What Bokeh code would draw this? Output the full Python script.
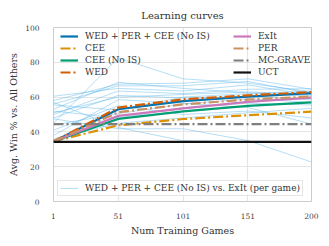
from bokeh.plotting import figure
from bokeh.models import Legend, LegendItem, FixedTicker, Range1d
from bokeh.embed import file_html
from bokeh.resources import INLINE

x_games = [1, 51, 101, 151, 200]

wed_per_cee = [34.5, 53.0, 57.7, 60.3, 62.3]
cee = [34.5, 43.8, 47.4, 49.6, 51.6]
cee_no_is = [34.5, 47.5, 51.8, 55.0, 57.0]
wed = [34.5, 54.0, 58.7, 61.0, 62.9]
exit_ = [34.5, 49.2, 53.5, 57.3, 59.7]
per = [34.5, 51.3, 55.8, 58.6, 60.3]
mc_grave = [44.5, 44.5, 44.5, 44.5, 44.5]
uct = [34.3, 34.3, 34.3, 34.3, 34.3]

per_game = [
    [45, 82.5, 70.5, 68.0, 63.0],
    [58, 67.5, 68.0, 70.5, 64.5],
    [56, 66.5, 66.5, 69.0, 62.0],
    [60.5, 65.0, 63.5, 67.0, 61.0],
    [53, 68.5, 65.0, 62.5, 60.5],
    [50, 63.5, 62.0, 64.5, 64.8],
    [48, 61.0, 59.5, 60.5, 58.5],
    [55.5, 52.5, 60.0, 62.0, 63.5],
    [44, 50.5, 56.0, 59.0, 57.0],
    [52, 48.0, 54.0, 56.5, 55.5],
    [47.5, 41.8, 41.8, 35.0, 22.7],
    [57, 42.5, 34.9, 34.5, 34.5],
    [41, 55.0, 50.0, 52.0, 48.0],
    [38, 58.5, 56.5, 54.0, 44.5],
    [36, 45.0, 48.0, 51.0, 53.5],
    [51, 60.0, 61.5, 63.0, 61.5],
]

y_ticks = [0, 20, 40, 60, 80, 100]
title_text = "Learning curves"

SERIF = "DejaVu Serif"

p = figure(width=321, height=238, output_backend="svg", toolbar_location=None,
           x_range=Range1d(1, 200), y_range=Range1d(0, 100),
           min_border_left=53, min_border_right=10, min_border_top=0, min_border_bottom=37,
           title=title_text)
p.title.align = "center"
p.title.text_font = SERIF
p.title.text_font_style = "normal"
p.title.text_font_size = "10px"
p.title.text_color = "#333333"
p.title.standoff = 8
p.title.padding = 3

p.outline_line_color = "#cccccc"
p.outline_line_width = 1
for ax in (p.xaxis[0], p.yaxis[0]):
    ax.axis_line_color = None
    ax.major_tick_line_color = None
    ax.minor_tick_line_color = None
    ax.major_tick_out = 0
    ax.major_tick_in = 0
    ax.minor_tick_out = 0
    ax.minor_tick_in = 0
    ax.major_label_text_font = SERIF
    ax.major_label_text_font_size = "7.5px"
    ax.major_label_text_color = "#444444"
    ax.axis_label_text_font = SERIF
    ax.axis_label_text_font_style = "normal"
    ax.axis_label_text_font_size = "9.5px"
    ax.axis_label_text_color = "#333333"
p.xaxis.ticker = FixedTicker(ticks=x_games)
p.yaxis.ticker = FixedTicker(ticks=y_ticks)
p.xaxis.major_label_standoff = 11
p.yaxis.major_label_standoff = 14
p.xaxis.axis_label = "Num Training Games"
p.yaxis.axis_label = "Avg. Win % vs. All Others"
p.xaxis.axis_label_standoff = 3
p.yaxis.axis_label_standoff = 3
p.grid.grid_line_color = "#e5e5e5"
p.grid.grid_line_width = 1.2

pg_renderers = []
for ys in per_game:
    r = p.line(x_games, ys, line_color="#56b4e9", line_alpha=0.55, line_width=0.8)
    pg_renderers.append(r)

DD = "10 3 2 3"
specs = [
    ("WED + PER + CEE (No IS)", wed_per_cee, "#0173b2", "solid"),
    ("CEE", cee, "#de8f05", DD),
    ("CEE (No IS)", cee_no_is, "#029e73", "solid"),
    ("WED", wed, "#d55e00", DD),
    ("ExIt", exit_, "#cc78bc", "solid"),
    ("PER", per, "#ca9161", DD),
    ("MC-GRAVE", mc_grave, "#7f7f7f", DD),
    ("UCT", uct, "#111111", "solid"),
]
items = []
for name, ys, col, dash in specs:
    r = p.line(x_games, ys, line_color=col, line_width=2.2, line_dash=dash)
    items.append(LegendItem(label=name, renderers=[r]))

LEG_FONT = "9px"


def make_legend(its, loc, standoff):
    lg = Legend(items=its, location=loc, border_line_color=None,
                background_fill_alpha=0, padding=0, margin=0, spacing=2,
                glyph_width=18, glyph_height=10, label_height=10,
                label_standoff=standoff, label_text_font=SERIF, label_text_font_size=LEG_FONT,
                label_text_color="#333333")
    return lg

p.add_layout(make_legend(items[:4], (7, 124), 7), "center")
p.add_layout(make_legend(items[4:], (180, 124), 7), "center")

bl = Legend(items=[LegendItem(label="WED + PER + CEE (No IS) vs. ExIt (per game)", renderers=[pg_renderers[0]])],
            location=(4, 5), border_line_color="#cccccc", border_line_width=1,
            background_fill_color="white", background_fill_alpha=0.8,
            padding=2, margin=0, glyph_width=18, glyph_height=10, label_height=10,
            label_standoff=7, label_text_font=SERIF, label_text_font_size=LEG_FONT,
            label_text_color="#333333")
p.add_layout(bl, "center")

open("out.html", "w").write(file_html(p, INLINE))
